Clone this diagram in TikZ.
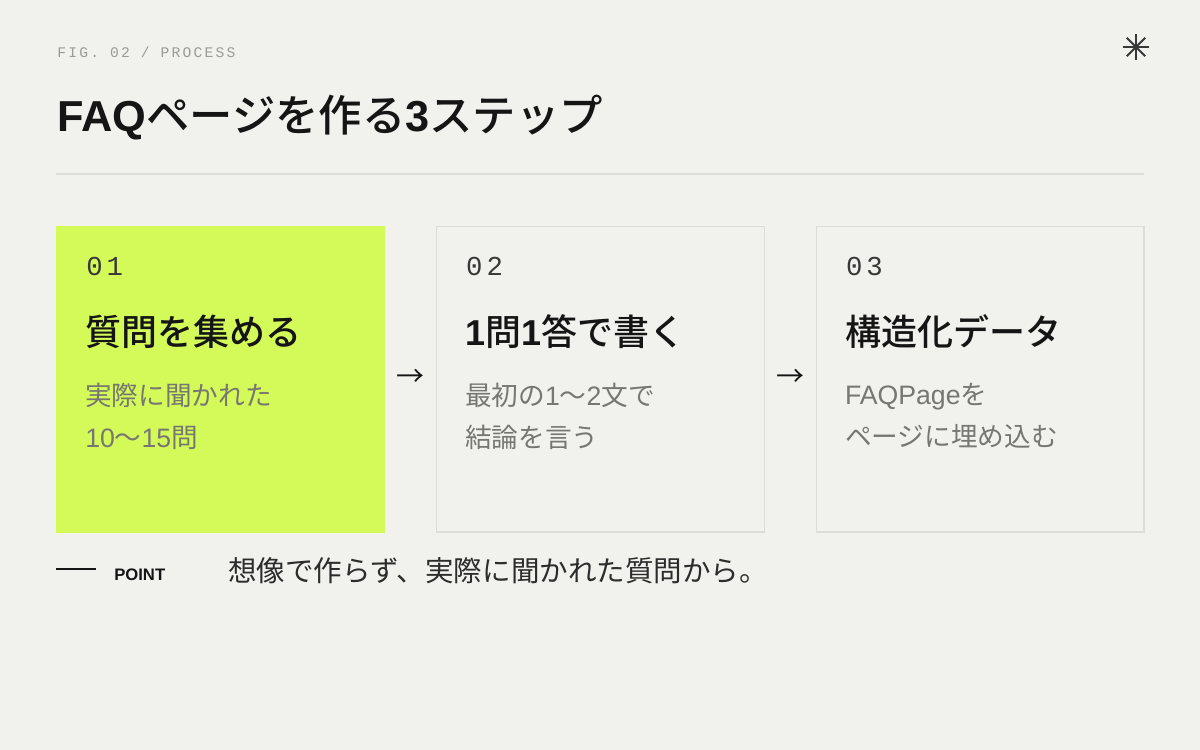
\documentclass[tikz,border=0pt]{standalone}
\usepackage{fontspec}
\usepackage{xcolor}
\usetikzlibrary{positioning,calc}
\setmainfont{Liberation Sans}
\newfontfamily\jpfont{Noto Sans CJK JP}[BoldFont={Noto Sans CJK JP Medium}]
\newfontfamily\monofont{Liberation Mono}[LetterSpace=15]
\definecolor{paper}{HTML}{F1F1ED}
\definecolor{lime}{HTML}{D4FA5A}
\definecolor{cardline}{HTML}{DCDCD8}
\definecolor{ink}{HTML}{151515}
\definecolor{note}{HTML}{777772}
\definecolor{figgray}{HTML}{9A9A96}
\tikzstyle{stepcard} = [rectangle, draw=cardline, line width=1.1pt, inner sep=0pt,
    minimum width=245.8pt, minimum height=229pt, anchor=north west]
\tikzstyle{activecard} = [stepcard, fill=lime, draw=lime]
\tikzstyle{stepnum} = [anchor=west, inner sep=0pt, text=ink!85, font=\monofont\fontsize{20.5}{20.5}\selectfont]
\tikzstyle{stephead} = [anchor=west, inner sep=0pt, text=ink, font=\jpfont\bfseries\fontsize{27}{27}\selectfont]
\tikzstyle{stepnote} = [anchor=west, inner sep=0pt, align=left, text=note, font=\jpfont\fontsize{20}{31.5}\selectfont]
\tikzstyle{flowarrow} = [inner sep=0pt, text=ink, font=\jpfont\fontsize{21}{21}\selectfont]

\begin{document}
\begin{tikzpicture}[x=0.75pt, y=-0.75pt]
    \fill[paper] (0,0) rectangle (1200,750);
    \useasboundingbox (0,0) rectangle (1200,750);

    % Header
    \node[anchor=west, inner sep=0pt, text=figgray, font=\monofont\fontsize{11}{11}\selectfont] (fig) at (57,52) {FIG. 02 / PROCESS};
    \node[anchor=west, inner sep=0pt, text=ink, font=\bfseries\fontsize{32.5}{32.5}\selectfont] (title) at (57,118)
        {FAQ{\jpfont ページを作る}3{\jpfont ステップ}};
    \coordinate (star) at (1136,47);
    \foreach \a in {0,45,90,135}
        \draw[ink!85, line width=1.5pt] ($(star)+(\a:13)$) -- ($(star)+(\a+180:13)$);
    \coordinate (ruleL) at (56,174);
    \coordinate (ruleR) at (1144,174);
    \draw[cardline, line width=1.5pt] (ruleL) -- (ruleR);

    % Cards
    \node[activecard] (s1) at (56,226) {};
    \node[stepcard, right=38pt of s1] (s2) {};
    \node[stepcard, right=38pt of s2] (s3) {};

    \node[stepnum] (n1) at ($(s1.north west)+(30,40)$) {01};
    \node[stephead] (h1) at ($(s1.north west)+(29,106)$) {質問を集める};
    \node[stepnote] (t1) at ($(s1.north west)+(29,190)$) {実際に聞かれた\\{\rmfamily 10}〜{\rmfamily 15}問};

    \node[stepnum] (n2) at ($(s2.north west)+(30,40)$) {02};
    \node[stephead] (h2) at ($(s2.north west)+(29,106)$) {{\rmfamily 1}問{\rmfamily 1}答で書く};
    \node[stepnote] (t2) at ($(s2.north west)+(29,190)$) {最初の{\rmfamily 1}〜{\rmfamily 2}文で\\結論を言う};

    \node[stepnum] (n3) at ($(s3.north west)+(30,40)$) {03};
    \node[stephead] (h3) at ($(s3.north west)+(29,106)$) {構造化データ};
    \node[stepnote] (t3) at ($(s3.north west)+(29,190)$) {{\rmfamily FAQPage}を\\ページに埋め込む};

    % Arrows between cards
    \node[flowarrow] (a1) at ($(s1.east)!0.5!(s2.west)+(0,-1)$) {→};
    \node[flowarrow] (a2) at ($(s2.east)!0.5!(s3.west)+(0,-1)$) {→};

    % Point line
    \coordinate (pt0) at (56,569);
    \coordinate (pt1) at (96,569);
    \draw[ink, line width=1.1pt] (pt0) -- (pt1);
    \node[anchor=west, inner sep=0pt, text=ink, font=\bfseries\fontsize{12.5}{12.5}\selectfont] (point) at (114,575) {POINT};
    \node[anchor=west, inner sep=0pt, text=ink!90, font=\jpfont\fontsize{21.4}{21.4}\selectfont] (pointtext) at (228,571)
        {想像で作らず、実際に聞かれた質問から。};
\end{tikzpicture}
\end{document}
